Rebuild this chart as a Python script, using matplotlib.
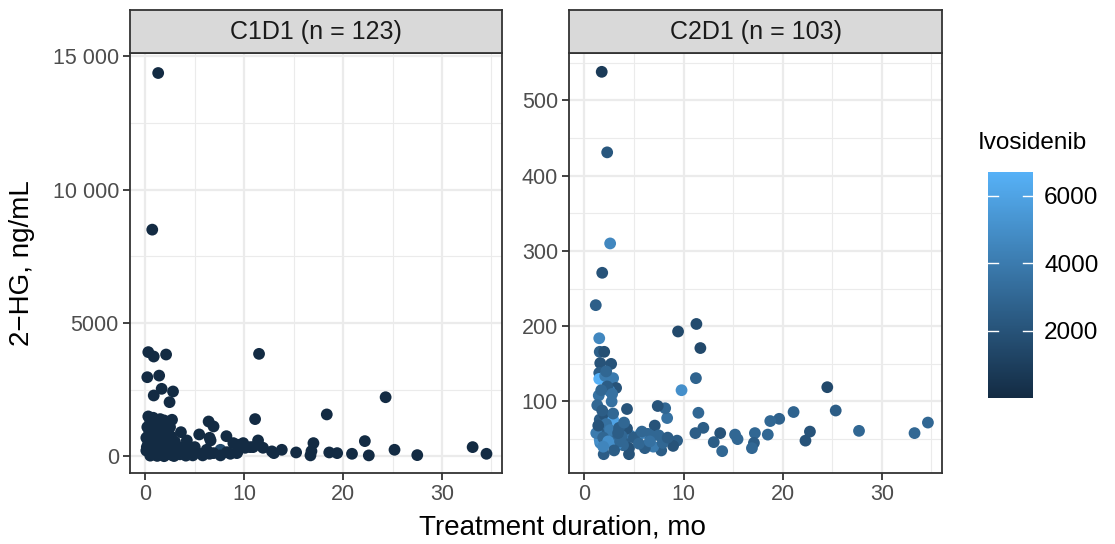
import numpy as np
import matplotlib
matplotlib.use("Agg")
import matplotlib.pyplot as plt
from matplotlib.colors import LinearSegmentedColormap, Normalize
from matplotlib.colorbar import ColorbarBase

plt.rcParams["font.family"] = ["Liberation Sans", "DejaVu Sans"]

# C1D1 panel: treatment duration (mo), 2-HG (ng/mL), ivosidenib
c1_x = [1.3, 0.7, 0.3, 0.85, 2.1, 11.5, 0.2, 1.4, 1.65, 2.8, 0.85, 2.45, 24.3, 18.35, 11.1,
        6.4, 6.9, 5.45, 8.2, 3.6, 2.7, 9.3, 11.4, 17.0, 22.2, 33.1, 34.5, 25.2, 27.5, 22.6,
        20.9, 19.4, 18.6, 16.7, 16.8, 15.25, 13.8, 13.0, 11.9, 10.9, 10.1, 9.3, 8.6, 7.6, 7.6,
        6.5, 6.5, 5.8, 4.8, 4.1, 4.0, 3.2, 6.6, 6.9, 8.25, 9.25, 10.6, 12.8, 6.2, 8.9, 9.9,
        0.3, 0.8, 1.5, 0.5, 1.2, 2.0, 0.2, 0.9, 1.6, 2.3, 0.4, 1.1, 1.8, 2.6, 0.1, 0.7, 1.4,
        2.1, 3.0, 0.3, 1.0, 1.7, 2.4, 0.6, 1.3, 2.0, 2.8, 0.2, 0.9, 1.5, 2.2, 3.3, 0.4, 1.1,
        1.8, 2.5, 0.1, 0.7, 1.4, 2.0, 2.7, 3.5, 0.5, 1.2, 1.9, 2.9, 3.8, 4.5, 5.2, 0.3, 1.6,
        2.3, 1.0, 0.6, 1.9, 2.5, 0.15, 3.1, 2.4, 1.3, 4.2, 5.0]
c1_y = [14370, 8500, 3910, 3745, 3820, 3845, 2970, 3030, 2535, 2435, 2285, 2035, 2220, 1575, 1400,
        1310, 1125, 825, 760, 910, 1375, 440, 600, 500, 575, 350, 100, 250, 50, 40,
        100, 125, 150, 40, 200, 150, 250, 125, 325, 350, 325, 160, 100, 250, 40,
        700, 100, 40, 40, 30, 380, 200, 600, 125, 160, 125, 350, 190, 250, 500, 500,
        1500, 1450, 1400, 1300, 1250, 1200, 1100, 1050, 1150, 1000, 900, 850, 800, 750, 700, 650, 680,
        600, 550, 500, 450, 500, 400, 380, 350, 330, 300, 280, 250, 270, 230, 250, 180, 160,
        200, 130, 220, 110, 80, 60, 50, 80, 30, 20, 10, 15, 120, 200, 150, 420, 400,
        750, 1150, 950, 1350, 1100, 350, 400, 520, 560, 600, 350]
c1_ivo = [0] * len(c1_x)
c1_ivo[43] = 1500

# C2D1 panel
c2_x = [1.75, 2.3, 2.6, 1.8, 1.15, 9.45, 11.3, 11.7, 1.5, 1.55, 2.0, 1.6, 1.5, 1.5, 2.1,
        2.9, 3.2, 2.55, 1.45, 2.75, 11.25, 9.8, 24.5, 25.35, 21.1, 34.65, 33.3, 27.7, 22.75, 22.3,
        19.65, 18.75, 18.5, 17.2, 17.1, 16.9, 15.45, 15.2, 13.9, 13.7, 13.05, 12.0, 11.2, 11.5, 8.35,
        8.15, 7.4, 7.1, 4.3, 9.35, 8.95, 7.75, 6.95, 6.1, 7.9, 6.8, 6.4, 5.65, 4.6, 4.3,
        4.1, 4.5, 4.5, 1.95, 2.9, 1.6, 1.55, 1.55, 1.55, 2.0, 2.9, 2.9, 3.75, 3.1, 3.9,
        3.2, 2.5, 2.0, 1.3, 1.8, 2.2, 2.6, 3.5, 1.2, 1.9, 2.4, 3.6, 5.0, 5.5, 2.3,
        1.7, 2.7, 2.2, 1.4, 3.0, 5.8, 7.5, 8.4, 6.6, 1.9, 4.0, 3.4, 2.8]
c2_y = [538, 431, 310, 271, 228, 193, 203, 171, 184, 166, 166, 151, 138, 130, 134,
        131, 118, 114, 108, 100, 131, 115, 119, 88, 86, 72, 58, 61, 60, 48,
        77, 74, 56, 58, 45, 38, 50, 56, 34, 58, 46, 65, 58, 85, 78,
        91, 94, 68, 90, 48, 41, 35, 40, 38, 45, 54, 57, 57, 55, 64,
        44, 30, 38, 30, 42, 45, 49, 65, 76, 83, 76, 84, 54, 56, 42,
        42, 54, 60, 95, 88, 70, 62, 65, 58, 52, 47, 47, 52, 44, 120,
        115, 150, 140, 68, 35, 60, 55, 52, 47, 40, 72, 58, 110]
c2_ivo = [800, 2200, 4600, 2000, 2600, 1500, 1600, 1500, 4600, 2600, 1800, 2000, 2500, 6700, 4000,
          4000, 2000, 4200, 3500, 3500, 2800, 5000, 1500, 2500, 2800, 3000, 3000, 3000, 2000, 2000,
          2700, 3000, 3000, 3000, 2500, 3000, 3000, 3000, 3000, 2000, 2500, 2500, 2500, 3000, 3500,
          3000, 2000, 2000, 2000, 2500, 2000, 2500, 4000, 2500, 3000, 3000, 3000, 4500, 4000, 2000,
          2500, 2000, 2000, 2500, 5500, 4500, 5000, 3000, 2500, 2000, 6000, 3000, 3000, 3000, 3000,
          5000, 3000, 2500, 3000, 2500, 3500, 4000, 2500, 4000, 3000, 5000, 3000, 2500, 3000, 2500,
          3000, 2000, 3000, 2000, 2500, 3000, 3000, 2500, 3500, 4500, 3000, 2500, 3500]

panels = [("C1D1 (n = 123)", c1_x, c1_y, c1_ivo), ("C2D1 (n = 103)", c2_x, c2_y, c2_ivo)]

cmap = LinearSegmentedColormap.from_list("gg", ["#132B43", "#56B1F7"])
all_ivo = c1_ivo + c2_ivo
norm = Normalize(vmin=min(all_ivo), vmax=max(all_ivo))

fig = plt.figure(figsize=(11.15, 5.44), dpi=100)

ax_pos = [[130 / 1115, 1 - 473 / 544, 372 / 1115, 420 / 544],
          [569 / 1115, 1 - 473 / 544, 373 / 1115, 420 / 544]]

y_settings = [
    dict(lim=(-620, 15120), major=[0, 5000, 10000, 15000], labels=["0", "5000", "10 000", "15 000"],
         minor=[2500, 7500, 12500]),
    dict(lim=(5, 563), major=[100, 200, 300, 400, 500], labels=["100", "200", "300", "400", "500"],
         minor=[50, 150, 250, 350, 450, 550]),
]

for i, (title, xs, ys, cs) in enumerate(panels):
    ax = fig.add_axes(ax_pos[i])
    ys_cfg = y_settings[i]
    ax.set_xlim(-1.55, 36.07)
    ax.set_ylim(*ys_cfg["lim"])
    ax.set_xticks([0, 10, 20, 30])
    ax.set_xticks([5, 15, 25, 35], minor=True)
    ax.set_yticks(ys_cfg["major"])
    ax.set_yticklabels(ys_cfg["labels"])
    ax.set_yticks(ys_cfg["minor"], minor=True)
    ax.grid(which="major", color="#EBEBEB", linewidth=1.6, zorder=0)
    ax.grid(which="minor", color="#EBEBEB", linewidth=0.8, zorder=0)
    ax.set_axisbelow(True)
    ax.scatter(xs, ys, c=cs, cmap=cmap, norm=norm, s=72, linewidths=0, zorder=3)
    for sp in ax.spines.values():
        sp.set_color("#333333")
        sp.set_linewidth(1.3)
    ax.tick_params(which="major", length=5, width=1.3, color="#333333",
                   labelsize=15.5, labelcolor="#4D4D4D", pad=3)
    ax.tick_params(which="minor", length=0)

    # facet strip
    sax = fig.add_axes([ax_pos[i][0], 1 - 53 / 544, ax_pos[i][2], 43 / 544])
    sax.set_facecolor("#D9D9D9")
    sax.set_xticks([])
    sax.set_yticks([])
    for sp in sax.spines.values():
        sp.set_color("#333333")
        sp.set_linewidth(1.3)
    sax.text(0.5, 0.5, title, ha="center", va="center", fontsize=18, color="#1A1A1A",
             transform=sax.transAxes)

fig.text(562 / 1115, 1 - 527 / 544, "Treatment duration, mo", ha="center", va="center", fontsize=20)
fig.text(22 / 1115, 1 - 263 / 544, "2\u2212HG, ng/mL", ha="center", va="center", rotation=90, fontsize=20)

# colour bar legend
cax = fig.add_axes([988 / 1115, 1 - 398 / 544, 45 / 1115, 226 / 544])
cb = ColorbarBase(cax, cmap=cmap, norm=norm, orientation="vertical")
cb.outline.set_visible(False)
cb.set_ticks([2000, 4000, 6000])
cax.tick_params(length=0, labelsize=17.5, labelcolor="#000000", pad=8)
for v in [2000, 4000, 6000]:
    cax.plot([0, 0.22], [v, v], color="white", linewidth=1, transform=cax.get_yaxis_transform())
    cax.plot([0.78, 1], [v, v], color="white", linewidth=1, transform=cax.get_yaxis_transform())
fig.text(978 / 1115, 1 - 143 / 544, "Ivosidenib", ha="left", va="center", fontsize=17.5)

fig.savefig("out.png", dpi=100)
